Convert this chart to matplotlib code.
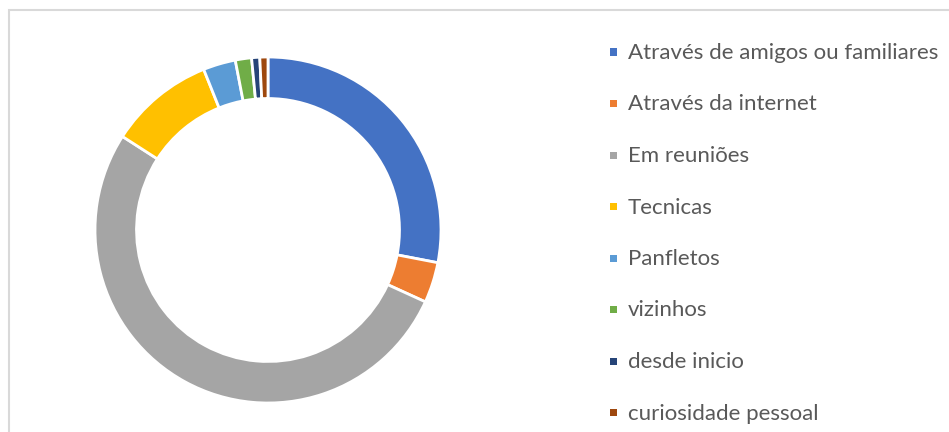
import matplotlib
matplotlib.use("Agg")
import matplotlib.pyplot as plt
from matplotlib.patches import Rectangle

labels = ["Através de amigos ou familiares", "Através da internet", "Em reuniões",
          "Tecnicas", "Panfletos", "vizinhos", "desde inicio", "curiosidade pessoal"]
values = [37, 5, 69, 13, 4, 2, 1, 1]
colors = ["#4472C4", "#ED7D31", "#A5A5A5", "#FFC000", "#5B9BD5", "#70AD47", "#264478", "#9E480E"]

W, H = 949, 432
fig = plt.figure(figsize=(W / 100, H / 100), dpi=100)

# chart border
fig.add_artist(Rectangle((8.5 / W, -0.1), 1.2, (H - 10.5) / H + 0.1,
                         transform=fig.transFigure, fill=False,
                         edgecolor="#d9d9d9", linewidth=1.5))

cx, cy, r = 268, 230, 173
ax = fig.add_axes([(cx - r) / W, (H - cy - r) / H, 2 * r / W, 2 * r / H])
wedges, _ = ax.pie(values, colors=colors, startangle=90, counterclock=False,
                   radius=1.0, wedgeprops=dict(width=0.24, edgecolor="white", linewidth=2))
ax.set_xlim(-1, 1)
ax.set_ylim(-1, 1)
ax.set_aspect("equal")
ax.axis("off")

row0, step = 52, 51.5
for i, (lab, col) in enumerate(zip(labels, colors)):
    yc = row0 + i * step
    fig.add_artist(Rectangle((609.5 / W, 1 - (yc + 3.5) / H), 7 / W, 7 / H,
                             transform=fig.transFigure, facecolor=col, edgecolor="none"))
    fig.text(628 / W, 1 - (yc + 7) / H, lab, fontsize=16, color="#595959",
             family="Lato", va="baseline", ha="left")

fig.savefig("out.png", dpi=100)
